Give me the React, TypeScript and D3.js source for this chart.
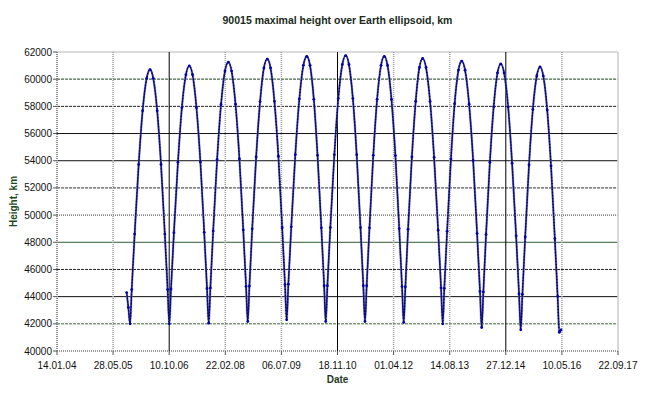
import React from "react";
import * as d3 from "d3";

// Days elapsed since 14.01.04 and the maximal height (km)
const days: number[] = [
  621, 636, 651,
  666, 692, 728, 763, 799, 829, 858, 893, 927, 961, 986, 1001,
  1016, 1042, 1078, 1113, 1149, 1179, 1208, 1243, 1278, 1312, 1337, 1352,
  1367, 1392, 1427, 1462, 1497, 1527, 1556, 1591, 1626, 1660, 1685, 1700,
  1715, 1740, 1775, 1810, 1844, 1874, 1903, 1938, 1973, 2007, 2032, 2047,
  2062, 2088, 2124, 2160, 2196, 2226, 2255, 2289, 2322, 2356, 2381, 2395,
  2410, 2436, 2472, 2507, 2543, 2573, 2602, 2637, 2671, 2705, 2730, 2745,
  2760, 2785, 2819, 2853, 2888, 2917, 2946, 2981, 3016, 3050, 3075, 3090,
  3105, 3129, 3163, 3197, 3230, 3259, 3289, 3325, 3361, 3397, 3423, 3438,
  3452, 3477, 3511, 3544, 3578, 3607, 3637, 3673, 3709, 3744, 3770, 3785,
  3800, 3824, 3858, 3892, 3926, 3955, 3985, 4021, 4056, 4092, 4118, 4133,
  4148, 4173, 4207, 4241, 4276, 4305, 4334, 4369, 4403, 4437, 4462, 4477,
  4492,
];

const heights: number[] = [
  44300, 43200, 42000,
  44520, 48600, 53730, 57670, 60060, 60700, 60060, 57670, 53730, 48600, 44520, 42000,
  44560, 48700, 53890, 57900, 60330, 60970, 60330, 57900, 53910, 48730, 44600, 42050,
  44640, 48830, 54090, 58140, 60600, 61250, 60600, 58160, 54130, 48910, 44750, 42170,
  44780, 48990, 54280, 58350, 60820, 61480, 60830, 58370, 54330, 49070, 44890, 42300,
  44920, 49140, 54450, 58540, 61020, 61680, 61020, 58520, 54400, 49060, 44800, 42170,
  44810, 49080, 54440, 58570, 61080, 61740, 61080, 58570, 54440, 49080, 44810, 42170,
  44800, 49060, 54400, 58520, 61020, 61680, 61010, 58510, 54380, 49010, 44740, 42100,
  44720, 48960, 54280, 58370, 60860, 61520, 60860, 58360, 54240, 48890, 44640, 42000,
  44610, 48820, 54120, 58200, 60670, 61330, 60660, 58160, 54020, 48650, 44380, 41730,
  44350, 48580, 53890, 57980, 60460, 61120, 60460, 57950, 53820, 48470, 44200, 41560,
  44170, 48390, 53690, 57770, 60240, 60900, 60240, 57740, 53620, 48270, 44020, 41380,
  41550,
];

const xTickDays: number[] = [0, 500, 1000, 1500, 2000, 2500, 3000, 3500, 4000, 4500, 5000];
const xTickLabels: string[] = [
  "14.01.04", "28.05.05", "10.10.06", "22.02.08", "06.07.09", "18.11.10",
  "01.04.12", "14.08.13", "27.12.14", "10.05.16", "22.09.17",
];
const yTicks: number[] = [40000, 42000, 44000, 46000, 48000, 50000, 52000, 54000, 56000, 58000, 60000, 62000];

const title = "90015 maximal height over Earth ellipsoid, km";
const xTitle = "Date";
const yTitle = "Height, km";

// styles (appearance of grid lines, as seen in the picture)
const hGridStyle: Record<number, { c: string; d?: string; w: number }> = {
  40000: { c: "#9a9a9a", d: "1,1", w: 2 },
  42000: { c: "#3d6b3d", d: "3,1", w: 1 },
  44000: { c: "#111", w: 1 },
  46000: { c: "#222", d: "3,1", w: 1 },
  48000: { c: "#2f5a2f", w: 1 },
  50000: { c: "#8a8a8a", d: "1,1", w: 1.6 },
  52000: { c: "#333", d: "3,1", w: 1 },
  54000: { c: "#111", w: 1 },
  56000: { c: "#111", w: 1 },
  58000: { c: "#222", d: "3,1", w: 1 },
  60000: { c: "#4a6a4a", d: "3,1", w: 1.2 },
  62000: { c: "#cfcfcf", w: 1.5 },
};
const vGridStyle: Record<number, { c: string; d?: string; w: number }> = {
  0: { c: "#8c8c8c", d: "1,1", w: 2 },
  500: { c: "#a0a0a0", d: "1,1", w: 1.6 },
  1000: { c: "#000", w: 1 },
  1500: { c: "#a0a0a0", d: "1,1", w: 1.6 },
  2000: { c: "#a0a0a0", d: "1,1", w: 1.6 },
  2500: { c: "#000", w: 1 },
  3000: { c: "#a0a0a0", d: "1,1", w: 1.6 },
  3500: { c: "#a0a0a0", d: "1,1", w: 1.6 },
  4000: { c: "#000", w: 1 },
  4500: { c: "#a0a0a0", d: "1,1", w: 1.6 },
  5000: { c: "#cfcfcf", w: 1.6 },
};

const W = 645;
const H = 397;
const L = 57;
const R = 618;
const T = 52;
const B = 351;
const FONT = "'Liberation Sans', Arial, sans-serif";

export default function App() {
  const x = d3.scaleLinear().domain([0, 5000]).range([L, R]);
  const y = d3.scaleLinear().domain([40000, 62000]).range([B, T]);
  const pts = days.map((d, i) => [d, heights[i]] as [number, number]);
  const line = d3
    .line<[number, number]>()
    .x((p) => x(p[0]))
    .y((p) => y(p[1]))
    .curve(d3.curveMonotoneX);
  const path = line(pts) || "";

  return (
    <svg
      width={W}
      height={H}
      style={{ position: "absolute", left: 0, top: 0, background: "#fff" }}
      fontFamily={FONT}
    >
      <rect x={0} y={0} width={W} height={H} fill="#fff" />
      <text x={(L + R) / 2} y={24} textAnchor="middle" fontSize={10.5} fontWeight="bold" fill="#1a2a1a">
        {title}
      </text>
      {/* horizontal grid */}
      {yTicks.map((t) => {
        const s = hGridStyle[t];
        return (
          <line key={"h" + t} x1={L} x2={R} y1={y(t)} y2={y(t)} stroke={s.c} strokeWidth={s.w} strokeDasharray={s.d} />
        );
      })}
      {/* vertical grid */}
      {xTickDays.map((t) => {
        const s = vGridStyle[t];
        return (
          <line key={"v" + t} x1={x(t)} x2={x(t)} y1={T} y2={B} stroke={s.c} strokeWidth={s.w} strokeDasharray={s.d} />
        );
      })}
      {/* y ticks & labels */}
      {yTicks.map((t) => (
        <g key={"yl" + t}>
          <line x1={L - 4} x2={L} y1={y(t)} y2={y(t)} stroke="#555" />
          <text x={L - 5} y={y(t) + 3.5} textAnchor="end" fontSize={10} fill="#111">
            {t}
          </text>
        </g>
      ))}
      {/* x ticks & labels */}
      {xTickDays.map((t, i) => (
        <g key={"xl" + t}>
          <line x1={x(t)} x2={x(t)} y1={B} y2={B + 4} stroke="#555" />
          <text x={x(t)} y={B + 18} textAnchor="middle" fontSize={10} fill="#111">
            {xTickLabels[i]}
          </text>
        </g>
      ))}
      <text x={(L + R) / 2} y={383} textAnchor="middle" fontSize={10} fontWeight="bold" fill="#1e3a1e">
        {xTitle}
      </text>
      <text
        transform={`translate(17,${(T + B) / 2}) rotate(-90)`}
        textAnchor="middle"
        fontSize={10}
        fontWeight="bold"
        fill="#1e4a1e"
      >
        {yTitle}
      </text>
      {/* data line */}
      <path d={path} fill="none" stroke="#9a9aaa" strokeWidth={2.6} opacity={0.5} />
      <path d={path} fill="none" stroke="#1a1aa0" strokeWidth={1.6} />
      <path d={path} fill="none" stroke="#000033" strokeWidth={1.2} strokeDasharray="1,2" />
      {pts.map((p, i) => (
        <circle key={i} cx={x(p[0])} cy={y(p[1])} r={1.4} fill="#0000b0" />
      ))}
    </svg>
  );
}
